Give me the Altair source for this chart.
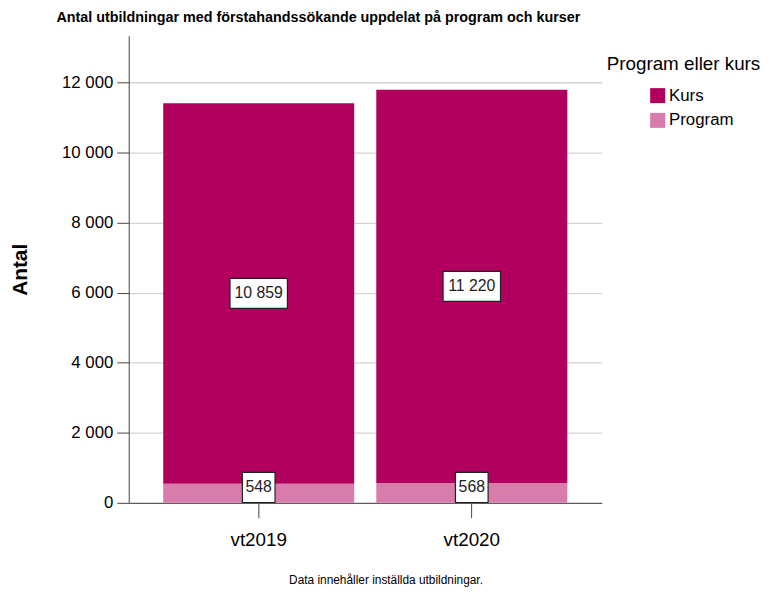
import altair as alt
import pandas as pd

terms = ["vt2019", "vt2020"]
kurs = [10859, 11220]
program = [548, 568]
categories = ["Kurs", "Program"]
colors = ["#B1005E", "#D87DAB"]
y_ticks = [0, 2000, 4000, 6000, 8000, 10000, 12000]

rows = []
for t, k, p in zip(terms, kurs, program):
    rows.append({"term": t, "typ": "Program", "value": p, "base": 0, "top": p, "ord": 0})
    rows.append({"term": t, "typ": "Kurs", "value": k, "base": p, "top": p + k, "ord": 1})
df = pd.DataFrame(rows)

FONT = "Liberation Sans"
fmt = "replace(format(datum.value, ','), ',', ' ')"

x_enc = alt.X("term:N", title=None, sort=terms,
              scale=alt.Scale(paddingInner=0.1, paddingOuter=0.16),
              axis=alt.Axis(labelAngle=0, labelFontSize=19, labelFont=FONT, labelColor="#000",
                            tickSize=15, tickColor="#444", domainColor="#444",
                            labelPadding=13, grid=False))
y_scale = alt.Scale(domain=[0, 13330], nice=False)

bars = alt.Chart(df).mark_bar(size=193).encode(
    x=x_enc,
    y=alt.Y("base:Q", scale=y_scale, title="Antal",
            axis=alt.Axis(values=y_ticks, labelExpr=fmt, labelFontSize=17, labelFont=FONT,
                          labelColor="#000", titleFontSize=21, titleFont=FONT, titleFontWeight="bold",
                          titleColor="#000", titlePadding=31, tickSize=12, tickColor="#444",
                          domainColor="#444", gridColor="#d4d4d4", labelPadding=4)),
    y2="top:Q",
    color=alt.Color("typ:N", scale=alt.Scale(domain=categories, range=colors),
                    legend=alt.Legend(title=None, orient="none", legendX=526, legendY=52,
                                      symbolType="square", symbolSize=230, symbolStrokeWidth=0,
                                      symbolOpacity=1, labelFontSize=17, labelFont=FONT,
                                      labelColor="#000", rowPadding=7, labelOffset=3)),
    order=alt.Order("ord:Q"),
)

lab_base = alt.Chart(df).transform_calculate(
    mid="max((datum.base + datum.top) / 2, 440)",
    lo="max((datum.base + datum.top) / 2, 440) - 430",
    hi="max((datum.base + datum.top) / 2, 440) + 430",
    txt="replace(format(datum.value, ','), ',', ' ')",
)

box_k = lab_base.transform_filter("datum.typ == 'Kurs'").mark_bar(
    width=58, fill="white", stroke="#222", strokeWidth=1.2).encode(
    x=alt.X("term:N", sort=terms), y="lo:Q", y2="hi:Q")
box_p = lab_base.transform_filter("datum.typ == 'Program'").mark_bar(
    width=33, fill="white", stroke="#222", strokeWidth=1.2).encode(
    x=alt.X("term:N", sort=terms), y="lo:Q", y2="hi:Q")
txt = lab_base.mark_text(fontSize=16, font=FONT, color="#222").encode(
    x=alt.X("term:N", sort=terms), y="mid:Q", text="txt:N")

legend_title = alt.Chart(pd.DataFrame({"t": ["Program eller kurs"]})).mark_text(
    fontSize=19, font=FONT, color="#000", align="left", baseline="middle").encode(
    x=alt.value(483), y=alt.value(29), text="t:N")
footer = alt.Chart(pd.DataFrame({"t": ["Data innehåller inställda utbildningar."]})).mark_text(
    fontSize=12, font=FONT, color="#000", align="center", baseline="middle").encode(
    x=alt.value(260), y=alt.value(550), text="t:N")

chart = alt.layer(bars, box_k, box_p, txt, legend_title, footer).properties(
    width=478, height=472,
    title=alt.TitleParams("Antal utbildningar med förstahandssökande uppdelat på program och kurser",
                          fontSize=14.5, font=FONT, fontWeight="bold", color="#000",
                          anchor="start", frame="group", offset=6, dx=-73, dy=-4),
    autosize=alt.AutoSizeParams(type="none"),
    padding={"left": 122, "top": 25, "right": 168, "bottom": 83},
).configure_view(stroke=None).configure_axis(gridWidth=1.3)

chart.save("out.html", embed_options={"renderer": "svg", "actions": False})
